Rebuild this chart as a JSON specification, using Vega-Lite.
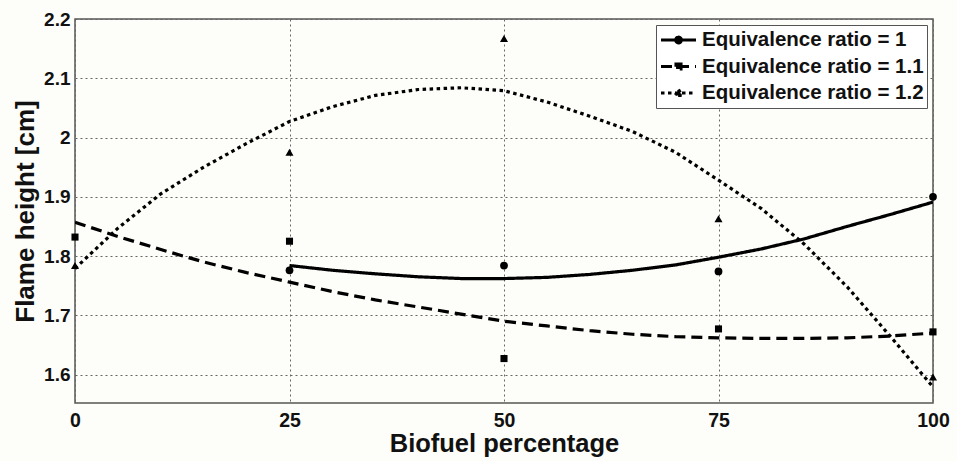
{
  "$schema": "https://vega.github.io/schema/vega-lite/v6.json",
  "autosize": "none",
  "width": 858,
  "height": 384,
  "padding": {"left": 75, "top": 19, "right": 24, "bottom": 58},
  "background": "#fdfdf9",
  "config": {
    "font": "Liberation Sans",
    "view": {"stroke": "#555555", "strokeWidth": 1.5},
    "axis": {
      "labelFont": "Liberation Sans",
      "labelFontWeight": "bold",
      "labelColor": "#111111",
      "titleFont": "Liberation Sans",
      "titleFontWeight": "bold",
      "titleColor": "#111111",
      "domain": false,
      "ticks": false,
      "grid": true,
      "gridColor": "#666666",
      "gridDash": [2, 3],
      "gridWidth": 1,
      "gridOpacity": 1
    }
  },
  "datasets": {
    "measured": [
      {"series": "Equivalence ratio = 1", "x": 25, "y": 1.776},
      {"series": "Equivalence ratio = 1", "x": 50, "y": 1.784},
      {"series": "Equivalence ratio = 1", "x": 75, "y": 1.774},
      {"series": "Equivalence ratio = 1", "x": 100, "y": 1.9},
      {"series": "Equivalence ratio = 1.1", "x": 0, "y": 1.832},
      {"series": "Equivalence ratio = 1.1", "x": 25, "y": 1.825},
      {"series": "Equivalence ratio = 1.1", "x": 50, "y": 1.627},
      {"series": "Equivalence ratio = 1.1", "x": 75, "y": 1.677},
      {"series": "Equivalence ratio = 1.1", "x": 100, "y": 1.672},
      {"series": "Equivalence ratio = 1.2", "x": 0, "y": 1.784},
      {"series": "Equivalence ratio = 1.2", "x": 25, "y": 1.975},
      {"series": "Equivalence ratio = 1.2", "x": 50, "y": 2.167},
      {"series": "Equivalence ratio = 1.2", "x": 75, "y": 1.863},
      {"series": "Equivalence ratio = 1.2", "x": 100, "y": 1.596}
    ],
    "fits": [
      {"series": "Equivalence ratio = 1", "x": 25, "y": 1.784},
      {"series": "Equivalence ratio = 1", "x": 30, "y": 1.776},
      {"series": "Equivalence ratio = 1", "x": 35, "y": 1.770},
      {"series": "Equivalence ratio = 1", "x": 40, "y": 1.765},
      {"series": "Equivalence ratio = 1", "x": 45, "y": 1.762},
      {"series": "Equivalence ratio = 1", "x": 50, "y": 1.762},
      {"series": "Equivalence ratio = 1", "x": 55, "y": 1.764},
      {"series": "Equivalence ratio = 1", "x": 60, "y": 1.769},
      {"series": "Equivalence ratio = 1", "x": 65, "y": 1.776},
      {"series": "Equivalence ratio = 1", "x": 70, "y": 1.785},
      {"series": "Equivalence ratio = 1", "x": 75, "y": 1.798},
      {"series": "Equivalence ratio = 1", "x": 80, "y": 1.812},
      {"series": "Equivalence ratio = 1", "x": 85, "y": 1.829},
      {"series": "Equivalence ratio = 1", "x": 90, "y": 1.850},
      {"series": "Equivalence ratio = 1", "x": 95, "y": 1.870},
      {"series": "Equivalence ratio = 1", "x": 100, "y": 1.891},
      {"series": "Equivalence ratio = 1.1", "x": 0, "y": 1.857},
      {"series": "Equivalence ratio = 1.1", "x": 5, "y": 1.833},
      {"series": "Equivalence ratio = 1.1", "x": 10, "y": 1.811},
      {"series": "Equivalence ratio = 1.1", "x": 15, "y": 1.790},
      {"series": "Equivalence ratio = 1.1", "x": 20, "y": 1.772},
      {"series": "Equivalence ratio = 1.1", "x": 25, "y": 1.756},
      {"series": "Equivalence ratio = 1.1", "x": 30, "y": 1.740},
      {"series": "Equivalence ratio = 1.1", "x": 35, "y": 1.726},
      {"series": "Equivalence ratio = 1.1", "x": 40, "y": 1.714},
      {"series": "Equivalence ratio = 1.1", "x": 45, "y": 1.702},
      {"series": "Equivalence ratio = 1.1", "x": 50, "y": 1.690},
      {"series": "Equivalence ratio = 1.1", "x": 55, "y": 1.682},
      {"series": "Equivalence ratio = 1.1", "x": 60, "y": 1.674},
      {"series": "Equivalence ratio = 1.1", "x": 65, "y": 1.668},
      {"series": "Equivalence ratio = 1.1", "x": 70, "y": 1.664},
      {"series": "Equivalence ratio = 1.1", "x": 75, "y": 1.662},
      {"series": "Equivalence ratio = 1.1", "x": 80, "y": 1.661},
      {"series": "Equivalence ratio = 1.1", "x": 85, "y": 1.661},
      {"series": "Equivalence ratio = 1.1", "x": 90, "y": 1.662},
      {"series": "Equivalence ratio = 1.1", "x": 95, "y": 1.665},
      {"series": "Equivalence ratio = 1.1", "x": 100, "y": 1.670},
      {"series": "Equivalence ratio = 1.2", "x": 0, "y": 1.779},
      {"series": "Equivalence ratio = 1.2", "x": 5, "y": 1.847},
      {"series": "Equivalence ratio = 1.2", "x": 10, "y": 1.905},
      {"series": "Equivalence ratio = 1.2", "x": 15, "y": 1.950},
      {"series": "Equivalence ratio = 1.2", "x": 20, "y": 1.990},
      {"series": "Equivalence ratio = 1.2", "x": 25, "y": 2.027},
      {"series": "Equivalence ratio = 1.2", "x": 30, "y": 2.052},
      {"series": "Equivalence ratio = 1.2", "x": 35, "y": 2.071},
      {"series": "Equivalence ratio = 1.2", "x": 40, "y": 2.081},
      {"series": "Equivalence ratio = 1.2", "x": 45, "y": 2.084},
      {"series": "Equivalence ratio = 1.2", "x": 50, "y": 2.079},
      {"series": "Equivalence ratio = 1.2", "x": 55, "y": 2.060},
      {"series": "Equivalence ratio = 1.2", "x": 60, "y": 2.036},
      {"series": "Equivalence ratio = 1.2", "x": 65, "y": 2.010},
      {"series": "Equivalence ratio = 1.2", "x": 70, "y": 1.975},
      {"series": "Equivalence ratio = 1.2", "x": 75, "y": 1.928},
      {"series": "Equivalence ratio = 1.2", "x": 80, "y": 1.880},
      {"series": "Equivalence ratio = 1.2", "x": 85, "y": 1.820},
      {"series": "Equivalence ratio = 1.2", "x": 90, "y": 1.748},
      {"series": "Equivalence ratio = 1.2", "x": 95, "y": 1.665},
      {"series": "Equivalence ratio = 1.2", "x": 100, "y": 1.579}
    ]
  },
  "encoding": {
    "x": {
      "field": "x",
      "type": "quantitative",
      "scale": {"domain": [0, 100], "nice": false, "zero": false},
      "axis": {
        "title": "Biofuel percentage",
        "values": [0, 25, 50, 75, 100],
        "labelFontSize": 19.5,
        "labelBaseline": "alphabetic",
        "labelPadding": 23,
        "labelFlush": false,
        "labelOverlap": false,
        "titleFontSize": 25.5,
        "titleBaseline": "alphabetic",
        "titleY": 48
      }
    },
    "y": {
      "field": "y",
      "type": "quantitative",
      "scale": {"domain": [1.552, 2.2], "nice": false, "zero": false},
      "axis": {
        "title": "Flame height [cm]",
        "values": [1.6, 1.7, 1.8, 1.9, 2.0, 2.1, 2.2],
        "format": ".1~f",
        "labelFontSize": 19,
        "labelPadding": 5,
        "labelBaseline": "middle",
        "labelFlush": false,
        "labelOverlap": false,
        "titleFontSize": 26,
        "titleAngle": -90,
        "titleBaseline": "alphabetic",
        "titleAlign": "center",
        "titleX": -42,
        "titleY": 192
      }
    }
  },
  "layer": [
    {
      "data": {"name": "fits"},
      "mark": {"type": "line", "color": "black", "strokeCap": "butt", "clip": true},
      "encoding": {
        "strokeWidth": {
          "field": "series",
          "type": "nominal",
          "scale": {
            "domain": ["Equivalence ratio = 1", "Equivalence ratio = 1.1", "Equivalence ratio = 1.2"],
            "range": [3.2, 3.2, 3.8]
          },
          "legend": null
        },
        "strokeDash": {
          "field": "series",
          "type": "nominal",
          "scale": {
            "domain": ["Equivalence ratio = 1", "Equivalence ratio = 1.1", "Equivalence ratio = 1.2"],
            "range": [[1, 0], [11, 6], [3.5, 3.5]]
          },
          "legend": {
            "title": null,
            "orient": "top-right",
            "offset": 6,
            "padding": 3,
            "fillColor": "#ffffff",
            "strokeColor": "#555555",
            "labelFont": "Liberation Sans",
            "labelFontSize": 20.5,
            "labelFontWeight": "bold",
            "labelColor": "#111111",
            "labelOffset": 4,
            "labelLimit": 400,
            "symbolSize": 1225,
            "symbolStrokeWidth": 2.5,
            "symbolStrokeColor": "black",
            "symbolFillColor": "black",
            "clipHeight": 24,
            "rowPadding": 2.5,
            "encode": {
              "symbols": {
                "update": {
                  "shape": {"signal": "datum.value === 'Equivalence ratio = 1' ? 'M-1,0H1M-0.16,0A0.16,0.16,0,1,1,0.16,0A0.16,0.16,0,1,1,-0.16,0Z' : datum.value === 'Equivalence ratio = 1.1' ? 'M-1,0H1M-0.14,-0.14H0.14V0.14H-0.14Z' : 'M-1,0H1M0,-0.2L0.19,0.14H-0.19Z'"},
                  "fill": {"value": "black"},
                  "stroke": {"value": "black"},
                  "strokeWidth": {"value": 2.5},
                  "opacity": {"value": 1}
                }
              }
            }
          }
        }
      }
    },
    {
      "data": {"name": "measured"},
      "transform": [{"filter": "datum.series === 'Equivalence ratio = 1'"}],
      "mark": {"type": "point", "shape": "circle", "filled": true, "color": "black", "size": 60, "opacity": 1}
    },
    {
      "data": {"name": "measured"},
      "transform": [{"filter": "datum.series === 'Equivalence ratio = 1.1'"}],
      "mark": {"type": "point", "shape": "square", "filled": true, "color": "black", "size": 50, "opacity": 1}
    },
    {
      "data": {"name": "measured"},
      "transform": [{"filter": "datum.series === 'Equivalence ratio = 1.2'"}],
      "mark": {"type": "point", "shape": "triangle-up", "filled": true, "color": "black", "size": 65, "opacity": 1}
    }
  ]
}
